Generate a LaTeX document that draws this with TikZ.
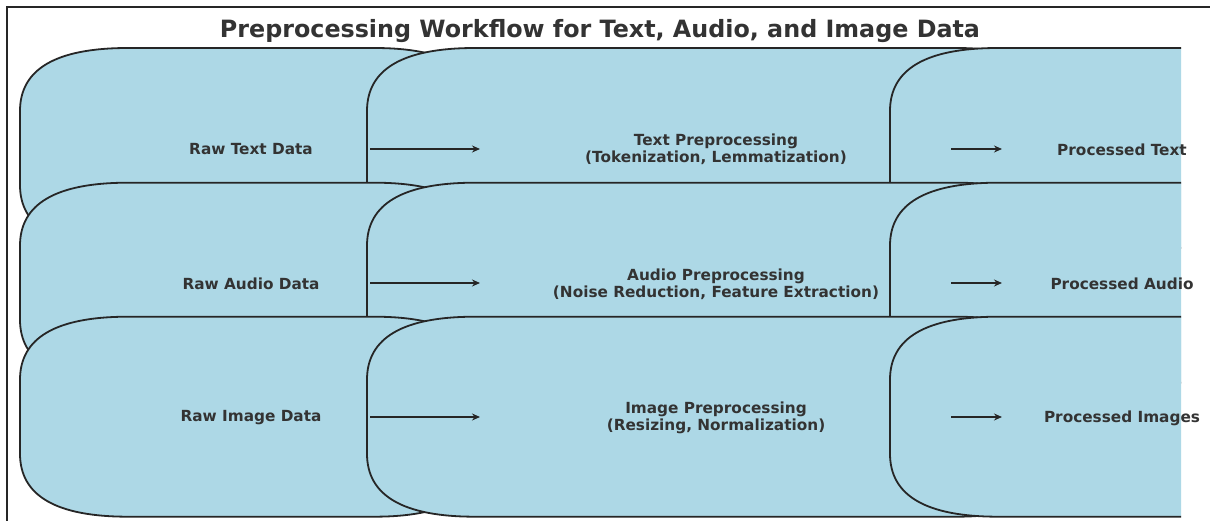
\documentclass[tikz,border=0pt]{standalone}
\usepackage{fontspec}
\setmainfont{DejaVu Sans}
\usetikzlibrary{arrows.meta}
\definecolor{boxblue}{HTML}{ADD8E6}
\definecolor{ink}{HTML}{333333}
\tikzset{
  flowbox/.style={fill=boxblue, draw=black!85, line width=1.8pt},
  lbl/.style={font=\bfseries\fontsize{15.3}{17}\selectfont, text=ink, align=center, inner sep=0pt},
  ttl/.style={font=\bfseries\fontsize{23.8}{28}\selectfont, text=ink, inner sep=0pt},
  flow/.style={-{Stealth[length=8pt,width=7pt]}, line width=1.8pt, draw=black!85},
  frameline/.style={line width=1.4pt, draw=black!85},
}
\newcommand{\rndbox}[4]{%
  \path[flowbox] ({#1+108},#2) -- ({#3-108},#2)
    .. controls ({#3-36},#2) and (#3,{#2+21}) .. (#3,{#2+63})
    -- (#3,{#4-63})
    .. controls (#3,{#4-21}) and ({#3-36},#4) .. ({#3-108},#4)
    -- ({#1+108},#4)
    .. controls ({#1+36},#4) and (#1,{#4-21}) .. (#1,{#4-63})
    -- (#1,{#2+63})
    .. controls (#1,{#2+21}) and ({#1+36},#2) .. cycle;}
\begin{document}
\begin{tikzpicture}[x=1pt,y=-1pt]
\useasboundingbox (0,0) rectangle (1210,521);
\fill[white] (0,0) rectangle (1210,521);
\begin{scope}
  \clip (0,0) rectangle (1181,521);
  % row 1
  \rndbox{20}{48}{482}{248}
  \rndbox{367}{48}{1064}{248}
  \rndbox{890}{48}{1354}{248}
  % row 2
  \rndbox{20}{182.7}{482}{382.7}
  \rndbox{367}{182.7}{1064}{382.7}
  \rndbox{890}{182.7}{1354}{382.7}
  % row 3
  \rndbox{20}{316.7}{482}{516.7}
  \rndbox{367}{316.7}{1064}{516.7}
  \rndbox{890}{316.7}{1354}{516.7}
\end{scope}
\draw[frameline] (7,521) -- (7,7) -- (1210,7);
\node[ttl] (title) at (600,31.5) {Preprocessing Workflow for Text, Audio, and Image Data};
% labels
\node[lbl] (raw1) at (251,149.5) {Raw Text Data};
\node[lbl] (pre1) at (716,149.5) {Text Preprocessing\\(Tokenization, Lemmatization)};
\node[lbl] (out1) at (1122,149.5) {Processed Text};
\node[lbl] (raw2) at (251,284) {Raw Audio Data};
\node[lbl] (pre2) at (716,284) {Audio Preprocessing\\(Noise Reduction, Feature Extraction)};
\node[lbl] (out2) at (1122,284) {Processed Audio};
\node[lbl] (raw3) at (251,418) {Raw Image Data};
\node[lbl] (pre3) at (716,418) {Image Preprocessing\\(Resizing, Normalization)};
\node[lbl] (out3) at (1122,418) {Processed Images};
% arrows
\coordinate (a1s) at (370,149); \coordinate (a1e) at (480,149);
\coordinate (b1s) at (951,149); \coordinate (b1e) at (1002,149);
\coordinate (a2s) at (370,283); \coordinate (a2e) at (480,283);
\coordinate (b2s) at (951,283); \coordinate (b2e) at (1002,283);
\coordinate (a3s) at (370,417); \coordinate (a3e) at (480,417);
\coordinate (b3s) at (951,417); \coordinate (b3e) at (1002,417);
\draw[flow] (a1s) -- (a1e);
\draw[flow] (b1s) -- (b1e);
\draw[flow] (a2s) -- (a2e);
\draw[flow] (b2s) -- (b2e);
\draw[flow] (a3s) -- (a3e);
\draw[flow] (b3s) -- (b3e);
\end{tikzpicture}
\end{document}
